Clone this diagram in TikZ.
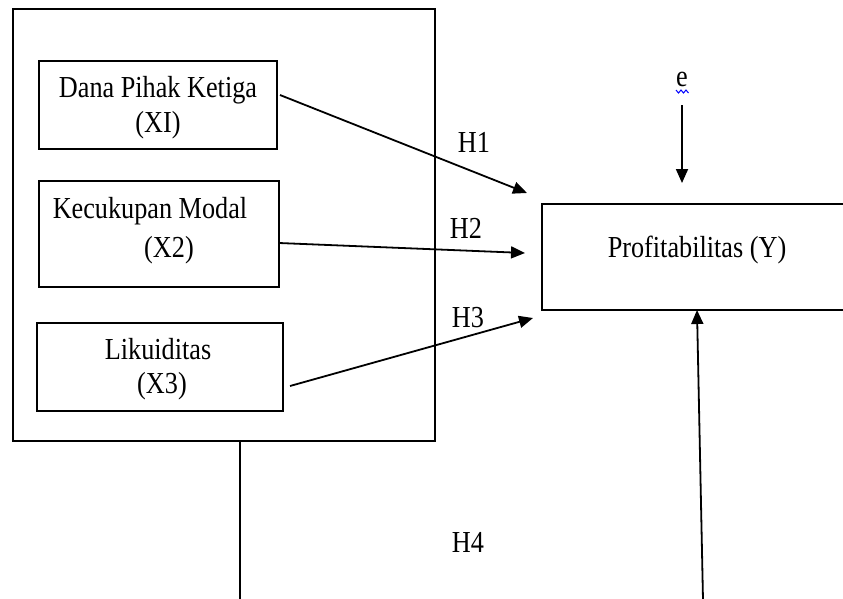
\documentclass[tikz,border=0pt]{standalone}
\usepackage{fontspec}
\setmainfont[FakeStretch=0.86]{Liberation Serif}
\usetikzlibrary{arrows.meta}
\begin{document}
\begin{tikzpicture}[x=1pt,y=-1pt,
  box/.style={draw=black,line width=2pt,inner sep=0pt},
  lbl/.style={anchor=base,inner sep=0pt,font=\fontsize{30.5}{36}\selectfont},
  conn/.style={line width=1.8pt,-{Triangle[length=14pt,width=12pt]}},
  plain/.style={line width=1.8pt}]
\useasboundingbox (0,0) rectangle (843,598);
% boxes
\node[box,minimum width=422pt,minimum height=432pt] (outer) at (224,225) {};
\node[box,minimum width=238pt,minimum height=88pt] (b1) at (158,105) {};
\node[box,minimum width=240pt,minimum height=106pt] (b2) at (159,234) {};
\node[box,minimum width=246pt,minimum height=88pt] (b3) at (160,367) {};
\node[box,minimum width=303pt,minimum height=106pt] (y) at (693.5,257) {};
% texts
\node[lbl] (t1a) at (158,97) {Dana Pihak Ketiga};
\node[lbl] (t1b) at (158,132) {(XI)};
\node[lbl] (t2a) at (150,218) {Kecukupan Modal};
\node[lbl] (t2b) at (169,257) {(X2)};
\node[lbl] (t3a) at (158,359) {Likuiditas};
\node[lbl] (t3b) at (162,393) {(X3)};
\node[lbl] (ty) at (697,257) {Profitabilitas (Y)};
\node[lbl] (h1) at (474,152) {H1};
\node[lbl] (h2) at (466,238) {H2};
\node[lbl] (h3) at (468,327) {H3};
\node[lbl] (h4) at (468,552) {H4};
\node[lbl] (e) at (682,86) {e};
\draw[blue,line width=1pt] (676,90) -- (678.5,93) -- (681,90) -- (683.5,93) -- (686,90) -- (688.5,93);
% connector coordinates
\coordinate (s1) at (280,95);
\coordinate (d1) at (527,193);
\coordinate (s2) at (279,243);
\coordinate (d2) at (525,253);
\coordinate (s3) at (290,386);
\coordinate (d3) at (533,318);
\coordinate (es) at (682,105);
\coordinate (ed) at (682,183);
\coordinate (l4top) at (240,441);
\coordinate (l4bot) at (240,600);
\coordinate (r4bot) at (703,600);
\coordinate (r4top) at (697,310);
% connectors
\draw[conn] (s1) -- (d1);
\draw[conn] (s2) -- (d2);
\draw[conn] (s3) -- (d3);
\draw[conn] (es) -- (ed);
\draw[plain] (l4top) -- (l4bot);
\draw[conn] (r4bot) -- (r4top);
\end{tikzpicture}
\end{document}
